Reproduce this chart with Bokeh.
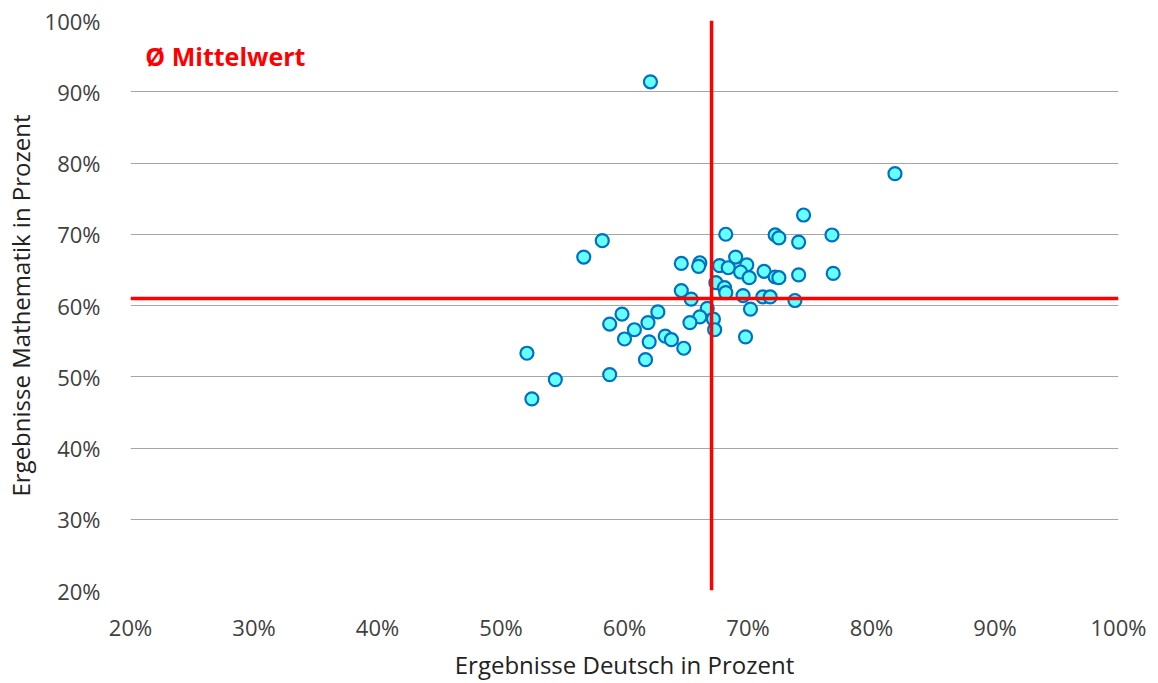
from bokeh.plotting import figure
from bokeh.models import Span, Label, FixedTicker, PrintfTickFormatter, Range1d
from bokeh.embed import file_html
from bokeh.resources import INLINE

# Ergebnisse Deutsch (x) und Mathematik (y) in Prozent
deutsch = [62.1, 81.9, 74.5, 58.2, 56.7, 68.2, 72.2, 72.5, 74.1, 76.8,
           64.6, 66.1, 66.0, 67.7, 68.4, 69.0, 69.9, 69.4, 70.1, 71.3,
           72.2, 72.5, 74.1, 76.9, 67.4, 68.1, 68.2, 64.6, 65.4, 69.6,
           71.2, 71.8, 73.8, 70.2, 66.7, 66.1, 65.3, 67.2, 67.3, 69.8,
           62.7, 59.8, 58.8, 61.9, 60.8, 60.0, 62.0, 63.3, 63.8, 64.8,
           52.1, 61.7, 58.8, 54.4, 52.5]
mathe = [91.4, 78.5, 72.7, 69.1, 66.8, 70.0, 69.9, 69.5, 68.9, 69.9,
         65.9, 66.0, 65.5, 65.6, 65.3, 66.8, 65.7, 64.7, 63.9, 64.8,
         64.0, 63.9, 64.3, 64.5, 63.2, 62.5, 61.8, 62.1, 60.9, 61.4,
         61.2, 61.2, 60.7, 59.5, 59.6, 58.4, 57.6, 58.1, 56.6, 55.6,
         59.1, 58.8, 57.4, 57.6, 56.6, 55.3, 54.9, 55.7, 55.2, 54.0,
         53.3, 52.4, 50.3, 49.6, 46.9]
mittelwert_deutsch = 67.05
mittelwert_mathe = 61.0
ticks = [20, 30, 40, 50, 60, 70, 80, 90, 100]

FONT = "Open Sans"

p = figure(frame_width=988, frame_height=570, output_backend="svg", toolbar_location=None,
           x_range=Range1d(20, 100), y_range=Range1d(20, 100),
           min_border_left=124, min_border_right=30, min_border_top=20, min_border_bottom=70)
p.outline_line_color = None
p.background_fill_color = "white"

for ax in (p.xaxis[0], p.yaxis[0]):
    ax.ticker = FixedTicker(ticks=ticks)
    ax.formatter = PrintfTickFormatter(format="%d%%")
    ax.axis_line_color = None
    ax.major_tick_line_color = None
    ax.minor_tick_line_color = None
    ax.major_label_text_font = FONT
    ax.major_label_text_font_size = "22px"
    ax.major_label_text_color = "#404040"
    ax.axis_label_text_font = FONT
    ax.axis_label_text_font_size = "24px"
    ax.axis_label_text_font_style = "normal"
    ax.axis_label_text_color = "#222222"

p.xaxis.axis_label = "Ergebnisse Deutsch in Prozent"
p.yaxis.axis_label = "Ergebnisse Mathematik in Prozent"
p.xaxis.major_label_standoff = 15
p.yaxis.major_label_standoff = 24
p.xaxis.axis_label_standoff = 3
p.yaxis.axis_label_standoff = 5

p.xgrid.grid_line_color = None
p.ygrid.ticker = FixedTicker(ticks=ticks)
p.ygrid.grid_line_color = "#A6A6A6"
p.ygrid.grid_line_width = 1

p.add_layout(Span(location=mittelwert_deutsch, dimension="height", line_color="#FF0000", line_width=3.5))
p.add_layout(Span(location=mittelwert_mathe, dimension="width", line_color="#FF0000", line_width=3.5))

p.scatter(deutsch, mathe, size=13, marker="circle", fill_color="#66FFFF",
          line_color="#0070C0", line_width=2.2)

p.add_layout(Label(x=21.2, y=95, text="Ø Mittelwert", text_color="#FF0000",
                   text_font=FONT, text_font_size="25px", text_font_style="bold",
                   text_baseline="middle", text_align="left"))

open("out.html", "w").write(file_html(p, INLINE))
